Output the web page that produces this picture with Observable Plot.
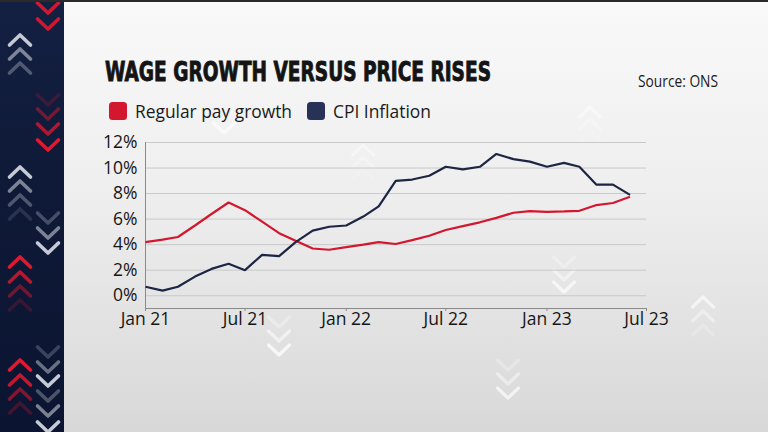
<!DOCTYPE html>
<html>
<head>
<meta charset="utf-8">
<script src="https://cdn.jsdelivr.net/npm/d3@7"></script>
<script src="https://cdn.jsdelivr.net/npm/@observablehq/plot@0.6"></script>
<style>
  html, body { margin: 0; padding: 0; }
  #frame {
    position: relative; width: 768px; height: 432px; overflow: hidden;
    background: linear-gradient(to bottom, #f9f9f9 0%, #eeeeee 45%, #d8d8d8 100%);
    border-top: 2px solid #2a2a2a; box-sizing: border-box;
  }
  #strip { position: absolute; left: 0; top: 0; width: 64px; height: 432px;
    background: linear-gradient(to bottom, #142042 0%, #0f1a38 40%, #0b1532 100%); }
  #deco, #texts { position: absolute; left: 0; top: -2px; }
  #chart { position: absolute; left: 0; top: 123px; }
</style>
</head>
<body>
<div id="frame">
  <div id="strip"></div>
  <svg id="deco" width="768" height="432"></svg>
  <svg id="texts" width="768" height="432"></svg>
  <div id="chart"></div>
</div>
<script>
// ---- data ----
const months = ["2021-01","2021-02","2021-03","2021-04","2021-05","2021-06","2021-07","2021-08","2021-09","2021-10","2021-11","2021-12",
                "2022-01","2022-02","2022-03","2022-04","2022-05","2022-06","2022-07","2022-08","2022-09","2022-10","2022-11","2022-12",
                "2023-01","2023-02","2023-03","2023-04","2023-05","2023-06"];
const regularPay = [4.2, 4.4, 4.6, 5.5, 6.4, 7.3, 6.7, 5.8, 4.9, 4.3, 3.7, 3.6,
                    3.8, 4.0, 4.2, 4.05, 4.35, 4.7, 5.15, 5.45, 5.75, 6.1, 6.5, 6.62,
                    6.57, 6.6, 6.65, 7.1, 7.26, 7.75];
const cpi = [0.7, 0.4, 0.7, 1.5, 2.1, 2.5, 2.0, 3.2, 3.1, 4.2, 5.1, 5.4,
             5.5, 6.2, 7.0, 9.0, 9.1, 9.4, 10.1, 9.9, 10.1, 11.1, 10.7, 10.5,
             10.1, 10.4, 10.1, 8.7, 8.7, 7.9];
const seriesNames = ["Regular pay growth", "CPI Inflation"];
const seriesColors = ["#d3172e", "#1c2544"];
const xTickDates = ["2021-01","2021-07","2022-01","2022-07","2023-01","2023-07"];
const xTickLabels = ["Jan 21","Jul 21","Jan 22","Jul 22","Jan 23","Jul 23"];
const yTicks = [0, 2, 4, 6, 8, 10, 12];
const title = "WAGE GROWTH VERSUS PRICE RISES";
const source = "Source: ONS";

// ---- build table ----
const parse = s => new Date(s + "-01T00:00:00Z");
const rows = [];
months.forEach((m, i) => {
  rows.push({date: parse(m), value: regularPay[i], series: seriesNames[0]});
  rows.push({date: parse(m), value: cpi[i], series: seriesNames[1]});
});
const tickDates = xTickDates.map(parse);
const labelOf = new Map(tickDates.map((d, i) => [d.getTime(), xTickLabels[i]]));
const x0 = tickDates[0], x1 = tickDates[tickDates.length - 1];

const chart = Plot.plot({
  width: 768, height: 213,
  marginLeft: 145, marginRight: 122, marginTop: 17, marginBottom: 30,
  style: {fontFamily: "'Open Sans', sans-serif", fontSize: "17.5px", color: "#1a1a1a", background: "transparent", overflow: "visible"},
  x: {type: "utc", domain: [x0, x1], ticks: tickDates, tickFormat: d => labelOf.get(d.getTime()), tickSize: 3, tickPadding: 1, label: null},
  y: {domain: [-1, 12], ticks: yTicks, tickFormat: d => d + "%", tickSize: 0, tickPadding: 8, label: null},
  color: {domain: seriesNames, range: seriesColors},
  marks: [
    Plot.ruleY(yTicks, {stroke: "#c9c9c9", strokeWidth: 1}),
    Plot.ruleX([x0], {y1: -1, y2: 12, stroke: "#8a8a8a", strokeWidth: 1}),
    Plot.ruleY([-1], {stroke: "#8a8a8a", strokeWidth: 1.2}),
    Plot.axisX({ticks: tickDates, tickFormat: d => labelOf.get(d.getTime()), tickSize: 3, tickPadding: 1, stroke: "#8a8a8a", fill: "#161616"}),
    Plot.axisY({ticks: yTicks, tickFormat: d => d + "%", tickSize: 0, tickPadding: 8, fill: "#161616"}),
    Plot.line(rows, {x: "date", y: "value", stroke: "series", strokeWidth: 2.2, strokeLinejoin: "miter", strokeLinecap: "butt"})
  ]
});
document.getElementById("chart").appendChild(chart);

// ---- texts (title, legend, source) ----
const NS = "http://www.w3.org/2000/svg";
const tsvg = document.getElementById("texts");
function addText(str, x, y, opts) {
  const t = document.createElementNS(NS, "text");
  t.setAttribute("x", x); t.setAttribute("y", y);
  for (const k in opts) t.setAttribute(k, opts[k]);
  t.textContent = str;
  tsvg.appendChild(t);
  return t;
}
addText(title, 105, 80.5, {"font-family": "'Liberation Sans Narrow', 'DejaVu Sans Condensed', sans-serif", "font-weight": "700",
  "font-size": "27", fill: "#141414", stroke: "#141414", "stroke-width": "0.9", textLength: "386", lengthAdjust: "spacingAndGlyphs"});
function legendSwatch(x, color) {
  const r = document.createElementNS(NS, "rect");
  r.setAttribute("x", x); r.setAttribute("y", 102); r.setAttribute("width", 18); r.setAttribute("height", 18);
  r.setAttribute("rx", 3.5); r.setAttribute("fill", color);
  tsvg.appendChild(r);
}
legendSwatch(109, seriesColors[0]);
addText(seriesNames[0], 135, 117.5, {"font-family": "'Open Sans', sans-serif", "font-size": "18.5", fill: "#1a1a1a", textLength: "157", lengthAdjust: "spacingAndGlyphs"});
legendSwatch(307, "#283256");
addText(seriesNames[1], 333, 117.5, {"font-family": "'Open Sans', sans-serif", "font-size": "18.5", fill: "#1a1a1a", textLength: "98", lengthAdjust: "spacingAndGlyphs"});
addText(source, 638, 87, {"font-family": "'Open Sans', sans-serif", "font-size": "16", fill: "#1a1a1a", textLength: "80", lengthAdjust: "spacingAndGlyphs"});

// ---- decorative chevrons (background ornament, not data) ----
const deco = document.getElementById("deco");
function chevron(cx, cy, up, color, op, w) {
  const p = document.createElementNS(NS, "path");
  const hw = 10.5, hh = up ? -5 : 5;
  p.setAttribute("d", `M${cx - hw},${cy - hh} L${cx},${cy + hh} L${cx + hw},${cy - hh}`);
  p.setAttribute("fill", "none"); p.setAttribute("stroke", color);
  p.setAttribute("stroke-width", w || 3.6); p.setAttribute("stroke-linecap", "round"); p.setAttribute("stroke-linejoin", "round");
  p.setAttribute("opacity", op);
  deco.appendChild(p);
}
const G = "#c6cad4", R = "#e3182f", W = "#ffffff";
[[40,G,1],[54,G,.6],[68,G,.35],[172,G,1],[186,G,.6],[200,G,.35],[214,G,.15],
 [262,R,1],[277,R,.8],[291,R,.45],[305,R,.2],[365,R,1],[380,R,.85],[394,R,.55],[408,R,.25]]
 .forEach(([y,c,o]) => chevron(20, y, true, c, o));
[[8,R,.9],[24,R,.9],[100,R,.2],[114,R,.45],[129,R,.75],[145,R,1],[218,G,.3],[233,G,.6],[248,G,1],
 [352,G,.25],[367,G,.5],[381,G,1],[396,G,.35],[411,G,.6],[427,G,1]]
 .forEach(([y,c,o]) => chevron(48, y, false, c, o));
[[224,128,false,.6],[363,150,true,.4],[363,162,true,.25],[363,174,true,.12],
 [590,112,true,.4],[590,124,true,.25],[590,136,true,.12],
 [279,322,false,.3],[279,336,false,.55],[279,350,false,.75],
 [564,262,false,.25],[564,275,false,.45],[564,287,false,.65],
 [508,365,false,.25],[508,379,false,.45],[508,393,false,.65],
 [703,302,true,.6],[703,316,true,.4],[703,330,true,.2]]
 .forEach(([x,y,up,o]) => chevron(x, y, up, W, o, 3.2));
</script>
</body>
</html>
